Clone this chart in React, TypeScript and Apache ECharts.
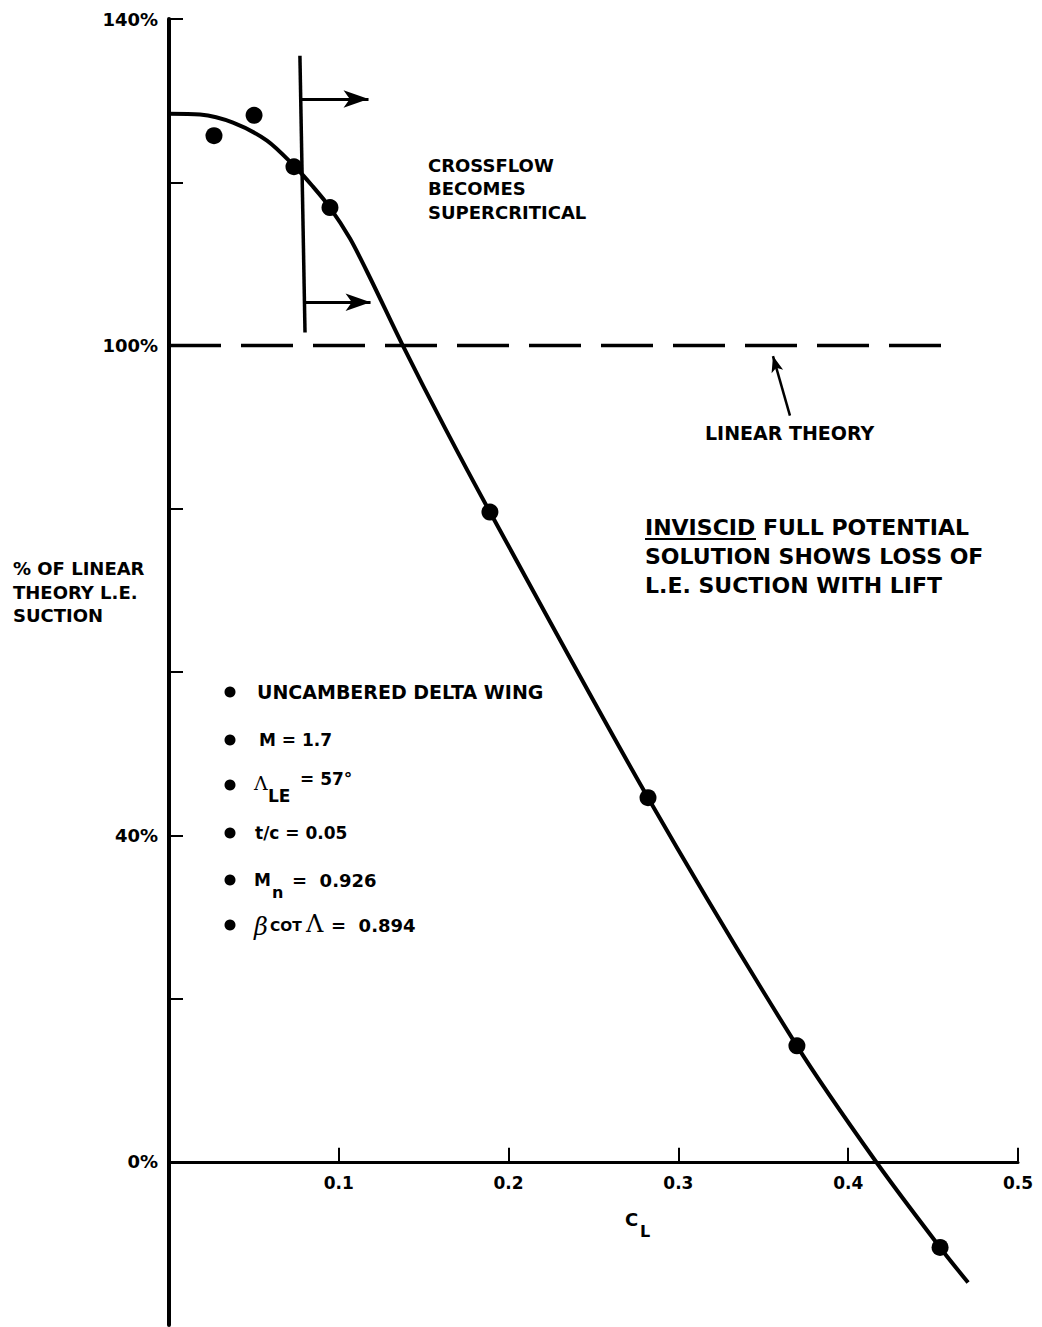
import React, { useEffect, useRef } from "react";
import * as echarts from "echarts";

// Solid curve: full potential solution (C_L vs % of linear theory L.E. suction)
const curveCL = [0, 0.0183, 0.0377, 0.0577, 0.0742, 0.0842, 0.0948, 0.1066, 0.1184, 0.1372, 0.1625, 0.189, 0.2821, 0.3698, 0.4164, 0.4541, 0.4706];
const curveSuction = [128.4, 128.3, 127.3, 125.1, 121.9, 119.6, 116.9, 113.1, 108.3, 100.2, 89.9, 79.6, 44.6, 14.2, 0, -10.5, -14.8];

// Computed points (filled dots)
const pointCL = [0.0265, 0.0501, 0.0736, 0.0948, 0.189, 0.2821, 0.3698, 0.4541];
const pointSuction = [125.7, 128.2, 121.9, 116.9, 79.6, 44.6, 14.2, -10.5];

// Linear theory reference line
const linearCL = [0, 0.46];
const linearSuction = [100, 100];

// Axis ranges, ticks and labels
const xMin = 0;
const xMax = 0.5;
const yMin = -20;
const yMax = 140;
const xTickValues = [0.1, 0.2, 0.3, 0.4, 0.5];
const yTickValues = [20, 40, 60, 80, 100, 120, 140];
const yLabelValues = [0, 40, 100, 140];

// Crossflow-supercritical marker (vertical bar + two arrows)
const crossBarCL = [0.0771, 0.0801];
const crossBarSuction = [135.5, 101.6];
const crossArrowFromCL = [0.0771, 0.0801];
const crossArrowToCL = [0.1175, 0.1187];
const crossArrowSuction = [130.2, 105.3];

// Pointer arrow to linear theory line
const pointerCL = [0.3657, 0.3557];
const pointerSuction = [91.4, 98.7];

const FONT = "DejaVu Sans";
const W = 1042;
const H = 1327;
const GRID = { left: 169, right: 24, top: 19, bottom: 2 };

function txt(text: string, x: number, y: number, size: number, opts: any = {}) {
  return {
    type: "text",
    x,
    y,
    silent: true,
    style: {
      text,
      fill: "#000",
      fontSize: size,
      fontWeight: opts.weight || "bold",
      fontFamily: opts.family || FONT,
      fontStyle: opts.style || "normal",
      align: opts.align || "left",
      verticalAlign: "middle",
      textAlign: opts.align || "left",
      textVerticalAlign: "middle",
    },
  };
}

export default function App() {
  const ref = useRef<HTMLDivElement>(null);

  useEffect(() => {
    document.body.style.margin = "0";
    const chart = echarts.init(ref.current!, undefined, { renderer: "svg" });

    const curveData = curveCL.map((c, i) => [c, curveSuction[i]]);
    const pointData = pointCL.map((c, i) => [c, pointSuction[i]]);
    const linearData = linearCL.map((c, i) => [c, linearSuction[i]]);

    // the x axis crosses the y axis at 0 %: shift it up from the grid bottom
    const gridHeight = H - GRID.top - GRID.bottom;
    const zeroOffset = (gridHeight * (0 - yMin)) / (yMax - yMin);

    const bulletYs = [692, 740, 785, 833, 880, 925];

    const option: any = {
      animation: false,
      backgroundColor: "#fff",
      grid: { ...GRID, containLabel: false, outerBoundsMode: "none" },
      xAxis: {
        type: "value",
        min: xMin,
        max: xMax,
        interval: 0.1,
        position: "bottom",
        offset: -zeroOffset,
        axisLine: { show: true, onZero: false, lineStyle: { color: "#000", width: 3 } },
        axisTick: { show: true, inside: true, length: 14, lineStyle: { color: "#000", width: 2 }, customValues: xTickValues },
        axisLabel: {
          show: true,
          customValues: xTickValues,
          formatter: (v: number) => v.toFixed(1),
          color: "#000",
          fontSize: 17,
          fontWeight: "bold",
          fontFamily: FONT,
          margin: 13,
        },
        splitLine: { show: false },
      },
      yAxis: {
        type: "value",
        min: yMin,
        max: yMax,
        interval: 20,
        axisLine: { show: true, onZero: false, lineStyle: { color: "#000", width: 4 } },
        axisTick: { show: true, inside: true, length: 14, lineStyle: { color: "#000", width: 2 }, customValues: yTickValues },
        axisLabel: {
          show: true,
          customValues: yLabelValues,
          formatter: (v: number) => `${v}%`,
          color: "#000",
          fontSize: 18,
          fontWeight: "bold",
          fontFamily: FONT,
          margin: 11,
        },
        splitLine: { show: false },
      },
      series: [
        {
          type: "line",
          data: curveData,
          smooth: 0.3,
          symbol: "none",
          silent: true,
          lineStyle: { color: "#000", width: 4 },
          z: 3,
        },
        {
          type: "scatter",
          data: pointData,
          symbol: "circle",
          symbolSize: 17,
          silent: true,
          itemStyle: { color: "#000", opacity: 1 },
          z: 4,
        },
        {
          type: "line",
          data: linearData,
          symbol: "none",
          silent: true,
          lineStyle: { color: "#000", width: 3.5, type: [52, 20] },
          z: 2,
          markLine: {
            silent: true,
            animation: false,
            symbol: ["none", "none"],
            label: { show: false },
            emphasis: { disabled: true },
            lineStyle: { color: "#000", width: 3.5, type: "solid", opacity: 1 },
            data: [
              [
                { coord: [crossBarCL[0], crossBarSuction[0]], symbol: "none" },
                { coord: [crossBarCL[1], crossBarSuction[1]], symbol: "none" },
              ],
              [
                { coord: [crossArrowFromCL[0], crossArrowSuction[0]], symbol: "none", lineStyle: { width: 3 } },
                { coord: [crossArrowToCL[0], crossArrowSuction[0]], symbol: "arrow", symbolSize: [13, 25] },
              ],
              [
                { coord: [crossArrowFromCL[1], crossArrowSuction[1]], symbol: "none", lineStyle: { width: 3 } },
                { coord: [crossArrowToCL[1], crossArrowSuction[1]], symbol: "arrow", symbolSize: [13, 25] },
              ],
              [
                { coord: [pointerCL[0], pointerSuction[0]], symbol: "none", lineStyle: { width: 2.5 } },
                { coord: [pointerCL[1], pointerSuction[1]], symbol: "arrow", symbolSize: [9, 16] },
              ],
            ],
          },
        },
      ],
      graphic: [
        // y-axis title
        txt("% OF LINEAR", 13, 568, 18),
        txt("THEORY L.E.", 13, 592, 18),
        txt("SUCTION", 13, 615, 18),
        // x-axis title C_L
        txt("C", 625, 1219, 18),
        txt("L", 640, 1231, 16),
        // crossflow note
        txt("CROSSFLOW", 428, 165, 18),
        txt("BECOMES", 428, 188, 18),
        txt("SUPERCRITICAL", 428, 212, 18),
        // linear theory label
        txt("LINEAR THEORY", 705, 433, 19),
        // inviscid note
        txt("INVISCID FULL POTENTIAL", 645, 527, 22),
        txt("SOLUTION SHOWS LOSS OF", 645, 556, 22),
        txt("L.E. SUCTION WITH LIFT", 645, 585, 22),
        {
          type: "line",
          silent: true,
          shape: { x1: 645, y1: 539, x2: 756, y2: 539 },
          style: { stroke: "#000", lineWidth: 2 },
        },
        // legend bullets
        ...bulletYs.map((y) => ({
          type: "circle",
          silent: true,
          shape: { cx: 230, cy: y, r: 5.5 },
          style: { fill: "#000" },
        })),
        txt("UNCAMBERED DELTA WING", 257, 692, 19),
        txt("M = 1.7", 259, 740, 17),
        txt("Λ", 254, 783, 19, { family: "DejaVu Serif", weight: "normal" }),
        txt("LE", 268, 796, 17),
        txt("= 57°", 300, 779, 17),
        txt("t/c = 0.05", 255, 833, 17),
        txt("M", 254, 880, 17),
        txt("n", 272, 892, 16),
        txt("=  0.926", 292, 880, 18),
        txt("β", 254, 927, 24, { family: "DejaVu Serif", weight: "normal", style: "italic" }),
        txt("COT", 270, 926, 14),
        txt("Λ", 306, 924, 24, { family: "DejaVu Serif", weight: "normal" }),
        txt("=  0.894", 331, 925, 18),
      ],
    };

    chart.setOption(option);
    return () => chart.dispose();
  }, []);

  return (
    <div
      ref={ref}
      style={{ position: "absolute", left: 0, top: 0, width: W, height: H, background: "#fff" }}
    />
  );
}
